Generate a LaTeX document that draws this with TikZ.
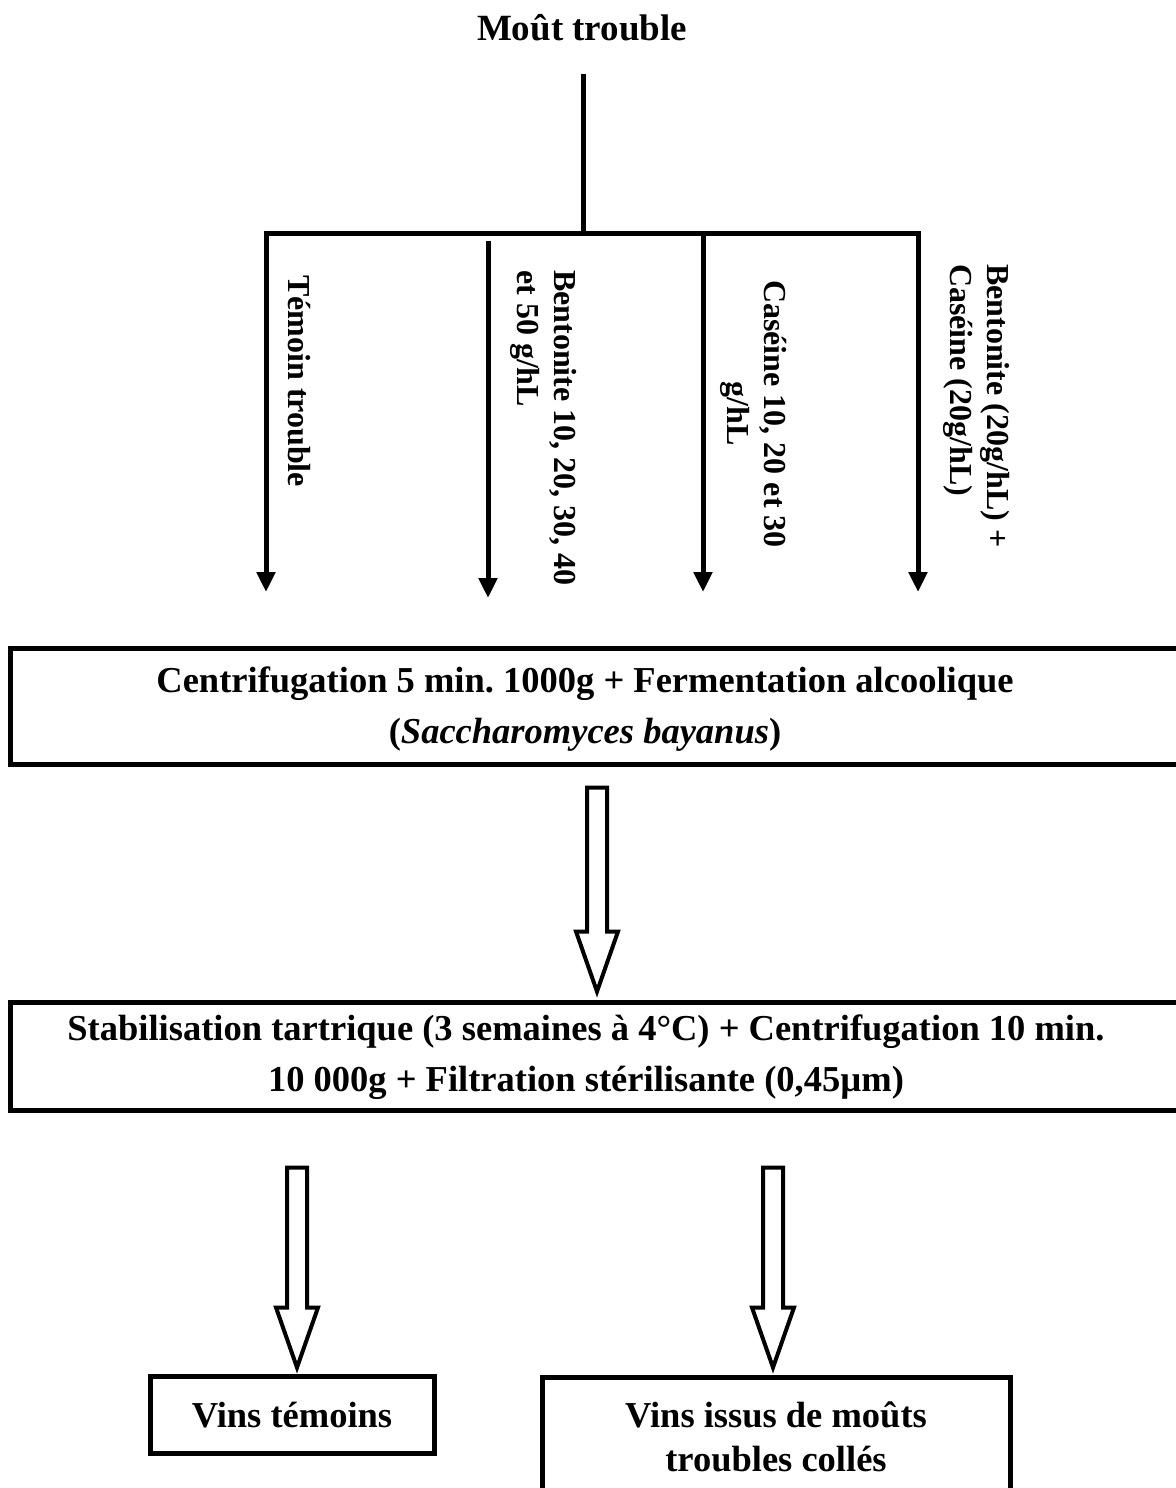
\documentclass[tikz,border=0pt]{standalone}
\usepackage{fontspec}
\setmainfont{Liberation Serif}
\usetikzlibrary{arrows.meta,calc}
\frenchspacing

\newcommand{\boxfont}{\fontsize{36.5}{51}\selectfont\bfseries}
\newcommand{\titlefont}{\fontsize{37}{44}\selectfont\bfseries}
\newcommand{\resfont}{\fontsize{36.5}{44}\selectfont\bfseries}
\newcommand{\vfont}{\fontsize{32}{37}\selectfont\bfseries}

% open block arrow pointing down: top centre, total length
\newcommand{\hollowdown}[2]{%
  \draw[hollow] (#1) ++(-10,0) -- ++(20,0) -- ++(0,#2-60) -- ++(11,0)
    -- ++(-21,60) -- ++(-21,-60) -- ++(11,0) -- cycle;}

\begin{document}
\begin{tikzpicture}[x=1pt,y=-1pt,
  frame/.style={draw, line width=5pt, inner sep=0pt},
  boxtext/.style={font=\boxfont, align=center, inner sep=0pt},
  vtext/.style={font=\vfont, rotate=-90, anchor=north west, inner sep=0pt},
  branch/.style={line width=5pt},
  feed/.style={line width=5pt, -{Triangle[width=18pt,length=20pt]}},
  hollow/.style={line width=4pt, line join=miter, fill=white}]

\fill[white] (0,0) rectangle (1175,1488);
\useasboundingbox (0,0) rectangle (1175,1488);

% title and the split into four treatments
\node[font=\titlefont, inner sep=0pt] (t0) at (582,28) {Moût trouble};
\coordinate (stemtop) at ($(t0.south)+(1,33)$);
\coordinate (split) at (583,233);
\coordinate (b1) at (266,233);
\coordinate (b2) at (488,241);
\coordinate (b3) at (703,233);
\coordinate (b4) at (918,233);
\coordinate (e1) at (266,592);
\coordinate (e2) at (488,598);
\coordinate (e3) at (703,592);
\coordinate (e4) at (918,592);

\draw[branch] (stemtop) -- (split);
\draw[branch, line cap=rect] (b1) -- (b4);
\draw[feed] (b1) -- (e1);
\draw[feed] (b2) -- (e2);
\draw[feed] (b3) -- (e3);
\draw[feed] (b4) -- (e4);

% treatment labels
\node[vtext] (v1) at (311,275) {Témoin trouble};
\node[vtext, align=left] (v2) at (577,270) {Bentonite 10, 20, 30, 40\\et 50 g/hL};
\node[vtext, align=center] (v3) at (787,280) {Caséine 10, 20 et 30\\g/hL};
\node[vtext, align=left] (v4) at (1010,264) {Bentonite (20g/hL) +\\Caséine (20g/hL)};

% processing steps
\node[frame, minimum width=1180pt, minimum height=116pt] (box1) at (600,706) {};
\node[boxtext] (t1) at (585,709)
  {Centrifugation 5 min. 1000g + Fermentation alcoolique\\(\textit{Saccharomyces bayanus})};

\node[frame, minimum width=1180pt, minimum height=108pt] (box2) at (600,1056) {};
\node[boxtext] (t2) at (586,1057)
  {Stabilisation tartrique (3 semaines à 4°C) + Centrifugation 10 min.\\10 000g + Filtration stérilisante (0,45µm)};

\coordinate (f1) at ($(box1.south)+(-3,21)$);
\hollowdown{f1}{204}

% resulting wines
\node[frame, minimum width=284pt, minimum height=77pt] (box3) at (292,1414.5) {};
\node[boxtext, font=\resfont] (t3) at (292,1415) {Vins témoins};

\node[frame, minimum width=468pt, minimum height=133pt] (box4) at (776,1443.5) {};
\node[boxtext, font=\resfont] (t4) at (776,1437) {Vins issus de moûts\\troubles collés};

\coordinate (f2) at ($(box2.south)+(-303,55)$);
\coordinate (f3) at ($(box2.south)+(173,55)$);
\hollowdown{f2}{200}
\hollowdown{f3}{200}
\end{tikzpicture}
\end{document}
